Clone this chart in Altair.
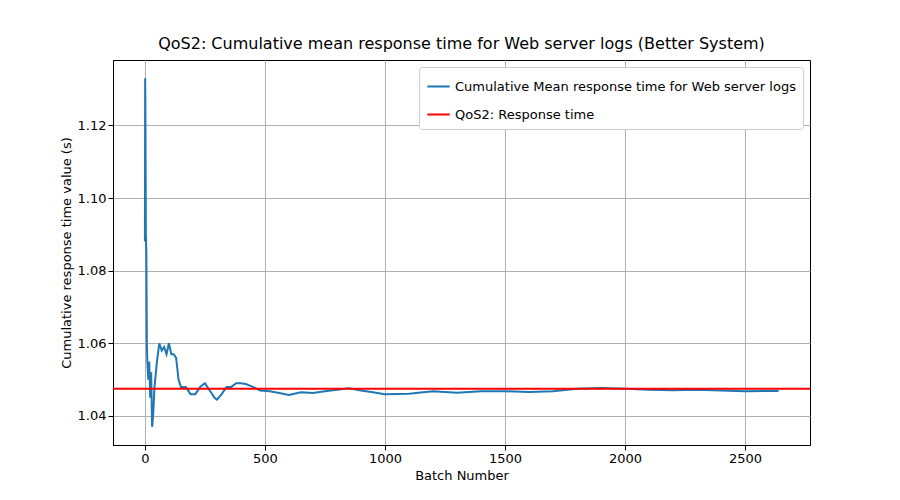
import altair as alt
import pandas as pd

batch = [0, 1, 2, 4, 6, 8, 10, 14, 18, 22, 26, 30, 34, 40, 50, 60, 70, 80, 90, 100,
         110, 120, 130, 140, 150, 170, 190, 210, 230, 250, 270, 290, 300, 320, 340,
         360, 380, 400, 420, 450, 480, 520, 560, 600, 650, 700, 750, 800, 850, 900,
         950, 1000, 1100, 1200, 1300, 1400, 1500, 1600, 1700, 1800, 1900, 2000, 2100,
         2200, 2300, 2400, 2500, 2640]
mean_rt = [1.088, 1.133, 1.125, 1.09, 1.085, 1.06, 1.055, 1.05, 1.055, 1.045, 1.052,
           1.037, 1.04, 1.048, 1.055, 1.06, 1.058, 1.059, 1.057, 1.06, 1.057, 1.057,
           1.056, 1.05, 1.048, 1.048, 1.046, 1.046, 1.048, 1.049, 1.047, 1.045, 1.0445,
           1.046, 1.048, 1.048, 1.049, 1.049, 1.0488, 1.048, 1.047, 1.0468, 1.0463,
           1.0458, 1.0465, 1.0463, 1.0468, 1.0472, 1.0476, 1.047, 1.0465, 1.046,
           1.0461, 1.0468, 1.0464, 1.0468, 1.0468, 1.0466, 1.0468, 1.0475, 1.0477,
           1.0475, 1.0472, 1.0471, 1.0472, 1.047, 1.0468, 1.0469]
qos_target = 1.0475

line_name = "Cumulative Mean response time for Web server logs"
qos_name = "QoS2: Response time"

df = pd.DataFrame({"batch": batch, "rt": mean_rt, "series": line_name})
qos_df = pd.DataFrame({"y": [qos_target], "series": [qos_name]})

color = alt.Color("series:N", title=None,
                  scale=alt.Scale(domain=[line_name, qos_name], range=["#1f77b4", "red"]),
                  legend=alt.Legend(orient="top-right", offset=7, symbolType="stroke",
                                    symbolStrokeWidth=2, symbolSize=500,
                                    labelFontSize=13, rowPadding=8,
                                    fillColor="white", strokeColor="#ccc",
                                    padding=7, cornerRadius=3, labelLimit=400))

line = alt.Chart(df).mark_line(strokeWidth=2).encode(
    x=alt.X("batch:Q", title="Batch Number",
            scale=alt.Scale(domain=[-133, 2771], nice=False, zero=False),
            axis=alt.Axis(values=[0, 500, 1000, 1500, 2000, 2500], format="d")),
    y=alt.Y("rt:Q", title="Cumulative response time value (s)",
            scale=alt.Scale(domain=[1.032, 1.138], nice=False, zero=False),
            axis=alt.Axis(values=[1.04, 1.06, 1.08, 1.10, 1.12], format=".2f")),
    color=color,
)

rule = alt.Chart(qos_df).mark_rule(strokeWidth=2).encode(y="y:Q", color=color)

chart = (line + rule).properties(
    width=697, height=385,
    title=alt.Title("QoS2: Cumulative mean response time for Web server logs (Better System)",
                    fontSize=16, fontWeight="normal", offset=8),
    autosize="none",
    padding={"left": 105, "top": 52, "right": 82, "bottom": 47},
).configure(font="DejaVu Sans").configure_axis(
    grid=True, gridColor="#b0b0b0", labelFontSize=13, titleFontSize=13,
    titleFontWeight="normal", domainColor="black", tickColor="black",
    labelColor="black", titleColor="black",
).configure_view(stroke="black")

chart.save("out.html", embed_options={"renderer": "svg", "actions": False})
